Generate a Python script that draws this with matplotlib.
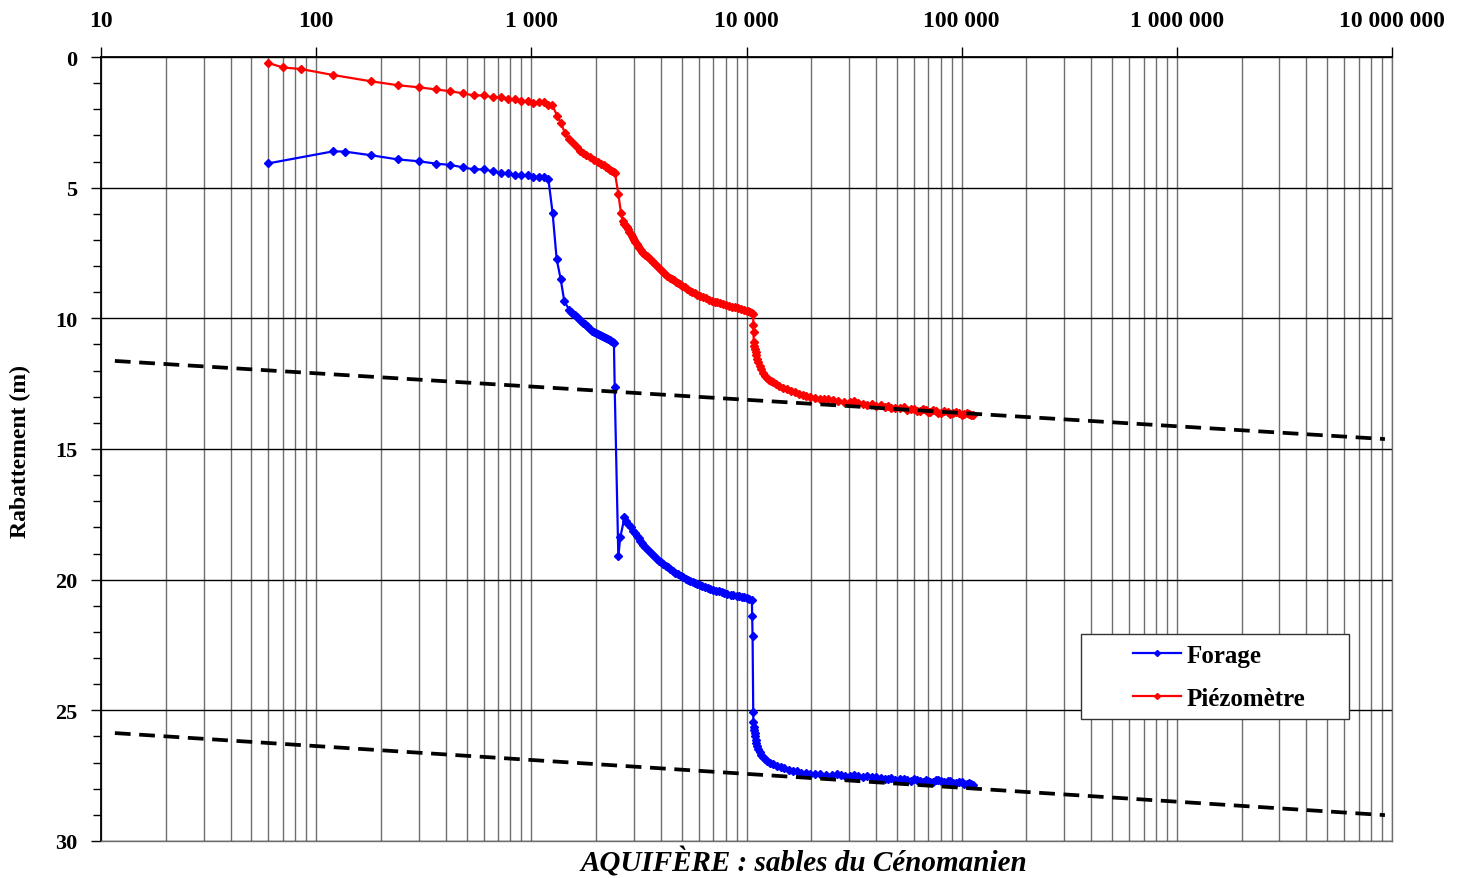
import matplotlib
matplotlib.use("Agg")
import matplotlib.pyplot as plt
from matplotlib.patches import Rectangle
from matplotlib.ticker import FixedLocator, FixedFormatter, MultipleLocator, LogLocator, NullFormatter

# --- data (time, drawdown in m), rows of 10 ---
forage_t = [60, 120, 136, 180, 240, 300, 360, 420, 480, 540,
            600, 660, 720, 780, 840, 900, 960, 1020, 1080, 1140,
            1200, 1256, 1311, 1369, 1423, 1500, 1530, 1560, 1590, 1623,
            1660, 1700, 1740, 1776, 1810, 1840, 1870, 1905, 1950, 2000,
            2040, 2085, 2130, 2180, 2230, 2278, 2320, 2350, 2390, 2420,
            2440, 2537, 2590, 2710, 2760, 2822, 2900, 2970, 3030, 3090,
            3150, 3210, 3260, 3320, 3380, 3435, 3510, 3590, 3670, 3753,
            3840, 3920, 4010, 4100, 4210, 4320, 4430, 4545, 4670, 4800,
            4940, 5085, 5220, 5350, 5490, 5625, 5760, 5900, 6050, 6215,
            6400, 6600, 6800, 7000, 7220, 7440, 7660, 7890, 8150, 8430,
            8700, 8990, 9250, 9500, 9750, 10000, 10300, 10590, 10620, 10670,
            10740, 10760, 10800, 10850, 10900, 10940, 11020, 11100, 11200, 11330,
            11500, 11700, 11940, 12180, 12500, 12900, 13300, 13800, 14400, 15000,
            15700, 16500, 17200, 18000, 18900, 19730, 20800, 22000, 23500, 25000,
            26200, 27500, 28800, 30230, 31500, 33000, 34800, 36500, 38300, 40180,
            42000, 44000, 45500, 47000, 49200, 51600, 53800, 56000, 58000, 60000,
            62000, 64000, 66000, 68000, 69600, 71200, 73500, 76000, 78000, 80000,
            83000, 86000, 88600, 91400, 94200, 97000, 100000, 103000, 105500, 108000,
            110500, 113200]
forage_s = [4.07, 3.61, 3.62, 3.76, 3.92, 3.99, 4.08, 4.13, 4.22, 4.30,
            4.30, 4.37, 4.45, 4.45, 4.53, 4.53, 4.53, 4.60, 4.58, 4.58,
            4.67, 5.98, 7.73, 8.50, 9.35, 9.67, 9.74, 9.82, 9.88, 9.96,
            10.03, 10.10, 10.16, 10.22, 10.29, 10.35, 10.41, 10.47, 10.52, 10.56,
            10.60, 10.64, 10.68, 10.71, 10.75, 10.79, 10.82, 10.86, 10.90, 10.96,
            12.64, 19.11, 18.38, 17.62, 17.75, 17.87, 18.00, 18.13, 18.23, 18.33,
            18.42, 18.51, 18.59, 18.67, 18.75, 18.83, 18.91, 18.99, 19.07, 19.15,
            19.22, 19.28, 19.34, 19.40, 19.47, 19.53, 19.60, 19.66, 19.73, 19.79,
            19.85, 19.91, 19.96, 20.01, 20.06, 20.10, 20.14, 20.18, 20.22, 20.26,
            20.29, 20.32, 20.35, 20.38, 20.42, 20.45, 20.48, 20.51, 20.54, 20.57,
            20.60, 20.62, 20.64, 20.66, 20.68, 20.70, 20.74, 20.77, 21.38, 22.15,
            25.08, 25.46, 25.62, 25.75, 25.88, 25.97, 26.12, 26.25, 26.37, 26.48,
            26.60, 26.70, 26.79, 26.87, 26.94, 27.00, 27.06, 27.12, 27.17, 27.22,
            27.27, 27.31, 27.34, 27.38, 27.41, 27.44, 27.42, 27.45, 27.49, 27.48,
            27.45, 27.47, 27.51, 27.50, 27.48, 27.52, 27.55, 27.51, 27.57, 27.54,
            27.58, 27.61, 27.62, 27.59, 27.66, 27.62, 27.63, 27.68, 27.70, 27.64,
            27.66, 27.71, 27.73, 27.67, 27.70, 27.75, 27.74, 27.66, 27.68, 27.72,
            27.76, 27.70, 27.72, 27.77, 27.78, 27.73, 27.76, 27.81, 27.80, 27.78,
            27.82, 27.86]

piezo_t = [60, 70, 85, 120, 180, 240, 300, 360, 420, 480,
           540, 600, 660, 720, 780, 840, 900, 960, 1020, 1080,
           1140, 1200, 1250, 1320, 1373, 1433, 1500, 1560, 1623, 1680,
           1733, 1800, 1872, 1960, 2046, 2110, 2180, 2230, 2278, 2330,
           2380, 2420, 2448, 2537, 2610, 2656, 2710, 2740, 2773, 2810,
           2850, 2890, 2925, 2960, 3000, 3040, 3086, 3130, 3170, 3220,
           3265, 3320, 3380, 3440, 3498, 3560, 3620, 3690, 3753, 3830,
           3920, 4010, 4100, 4190, 4290, 4390, 4490, 4590, 4690, 4790,
           4900, 5030, 5170, 5310, 5454, 5600, 5750, 5900, 6065, 6260,
           6460, 6670, 6890, 7110, 7330, 7550, 7780, 8040, 8300, 8560,
           8830, 9110, 9400, 9700, 10000, 10200, 10400, 10570, 10740, 10760,
           10780, 10800, 10870, 10940, 11020, 11100, 11200, 11330, 11500, 11700,
           11940, 12180, 12430, 12700, 13000, 13320, 13750, 14200, 14750, 15360,
           16050, 16800, 17550, 18350, 19000, 19730, 20800, 21950, 23000, 24000,
           25200, 26500, 28300, 30230, 31500, 33000, 34700, 36500, 38300, 40180,
           42000, 44000, 45500, 47000, 49200, 51600, 53800, 56000, 58000, 60000,
           62000, 64000, 66000, 68000, 69600, 71200, 73500, 76000, 78000, 80000,
           83000, 86000, 88600, 91400, 94200, 97000, 100000, 103000, 105500, 108000,
           110500, 113200]
piezo_s = [0.23, 0.40, 0.46, 0.69, 0.93, 1.08, 1.16, 1.24, 1.31, 1.39,
           1.47, 1.47, 1.54, 1.54, 1.62, 1.62, 1.70, 1.70, 1.77, 1.74,
           1.74, 1.82, 1.84, 2.25, 2.53, 2.91, 3.14, 3.30, 3.46, 3.58,
           3.69, 3.76, 3.84, 3.94, 4.03, 4.09, 4.15, 4.21, 4.26, 4.31,
           4.36, 4.40, 4.45, 5.24, 5.97, 6.26, 6.40, 6.46, 6.52, 6.60,
           6.68, 6.76, 6.84, 6.91, 6.99, 7.07, 7.16, 7.23, 7.30, 7.38,
           7.45, 7.50, 7.56, 7.62, 7.67, 7.74, 7.80, 7.86, 7.92, 8.00,
           8.08, 8.16, 8.24, 8.30, 8.37, 8.44, 8.50, 8.55, 8.60, 8.64,
           8.69, 8.76, 8.82, 8.88, 8.94, 8.99, 9.04, 9.09, 9.14, 9.19,
           9.24, 9.29, 9.33, 9.36, 9.39, 9.42, 9.45, 9.49, 9.52, 9.55,
           9.58, 9.62, 9.65, 9.68, 9.71, 9.73, 9.76, 9.78, 9.82, 10.24,
           10.54, 10.92, 11.05, 11.17, 11.30, 11.42, 11.55, 11.69, 11.82, 11.95,
           12.08, 12.20, 12.28, 12.35, 12.40, 12.45, 12.53, 12.60, 12.66, 12.71,
           12.77, 12.83, 12.88, 12.92, 12.96, 13.00, 13.04, 13.08, 13.07, 13.10,
           13.13, 13.16, 13.19, 13.21, 13.18, 13.24, 13.27, 13.30, 13.28, 13.34,
           13.31, 13.38, 13.35, 13.42, 13.44, 13.45, 13.40, 13.50, 13.46, 13.48,
           13.53, 13.55, 13.47, 13.52, 13.57, 13.58, 13.50, 13.56, 13.61, 13.62,
           13.54, 13.60, 13.65, 13.64, 13.58, 13.63, 13.68, 13.67, 13.62, 13.65,
           13.71, 13.70]

# straight-line fits drawn on the chart (end points)
fit1_t = [11.6, 9.27e6]
fit1_s = [11.63, 14.62]
fit2_t = [11.6, 9.27e6]
fit2_s = [25.87, 29.01]

x_ticks = [10, 100, 1000, 10000, 100000, 1000000, 10000000]
x_labels = ["10", "100", "1 000", "10 000", "100 000", "1 000 000", "10 000 000"]
y_ticks = [0, 5, 10, 15, 20, 25, 30]

SERIF = ["Liberation Serif", "DejaVu Serif"]
plt.rcParams["font.family"] = SERIF
plt.rcParams["font.weight"] = "bold"

fig = plt.figure(figsize=(14.66, 8.79), dpi=100)
ax = fig.add_axes([101 / 1466, 1 - 842 / 879, (1392 - 101) / 1466, (842 - 58) / 879])

ax.set_xscale("log")
ax.set_xlim(10, 1e7)
ax.set_ylim(30, 0)

ax.plot(forage_t, forage_s, color="#0000ff", lw=1.6, marker="D", ms=3.8,
        label="Forage", zorder=3)
ax.plot(piezo_t, piezo_s, color="#ff0000", lw=1.6, marker="D", ms=3.8,
        label="Piézomètre", zorder=3)

for ft, fs in ((fit1_t, fit1_s), (fit2_t, fit2_s)):
    ax.plot(ft, fs, color="black", lw=2.7, dashes=(4.2, 2.3), zorder=4)

# x axis on top, log grid
ax.xaxis.tick_top()
ax.xaxis.set_major_locator(FixedLocator(x_ticks))
ax.xaxis.set_major_formatter(FixedFormatter(x_labels))
ax.xaxis.set_minor_locator(LogLocator(base=10, subs=range(2, 10), numticks=20))
ax.xaxis.set_minor_formatter(NullFormatter())
ax.tick_params(axis="x", which="major", direction="out", length=7, width=1,
               pad=12, labelsize=17)
ax.tick_params(axis="x", which="minor", length=0)

ax.yaxis.set_major_locator(FixedLocator(y_ticks))
ax.yaxis.set_minor_locator(MultipleLocator(1))
ax.tick_params(axis="y", which="major", direction="out", length=7, width=1,
               pad=10, labelsize=16)
ax.tick_params(axis="y", which="minor", direction="out", length=6, width=1)

ax.grid(True, which="both", axis="x", color="#6e6e6e", lw=1.0, zorder=1)
ax.grid(True, which="major", axis="y", color="black", lw=1.0, zorder=1)
ax.set_axisbelow(True)

for side in ("top", "left"):
    ax.spines[side].set_color("black")
    ax.spines[side].set_linewidth(1.3)
for side in ("bottom", "right"):
    ax.spines[side].set_color("#6e6e6e")
    ax.spines[side].set_linewidth(1.0)

fig.text(20 / 1466, 1 - 451 / 879, "Rabattement (m)", rotation=90, ha="center",
         va="center", fontsize=17, fontweight="bold")
fig.text(804 / 1466, 1 - 863 / 879, "AQUIFÈRE : sables du Cénomanien", ha="center",
         va="center", fontsize=21, fontweight="bold", style="italic")

# legend box
box = Rectangle((1081 / 1466, 1 - 720 / 879), 268 / 1466, 85 / 879, transform=fig.transFigure,
                facecolor="white", edgecolor="#333333", lw=1.0, zorder=10, clip_on=False)
ax.add_artist(box)
leg = ax.legend(loc="upper left", bbox_to_anchor=(1133 / 1466, 1 - 645 / 879),
                bbox_transform=fig.transFigure, frameon=False, borderpad=0, borderaxespad=0,
                fontsize=18, handlelength=1.9, handletextpad=0.25, labelspacing=0.78,
                markerscale=0.8)
leg.set_zorder(11)
for txt in leg.get_texts():
    txt.set_fontweight("bold")

fig.savefig("out.png", dpi=100, facecolor="white")
